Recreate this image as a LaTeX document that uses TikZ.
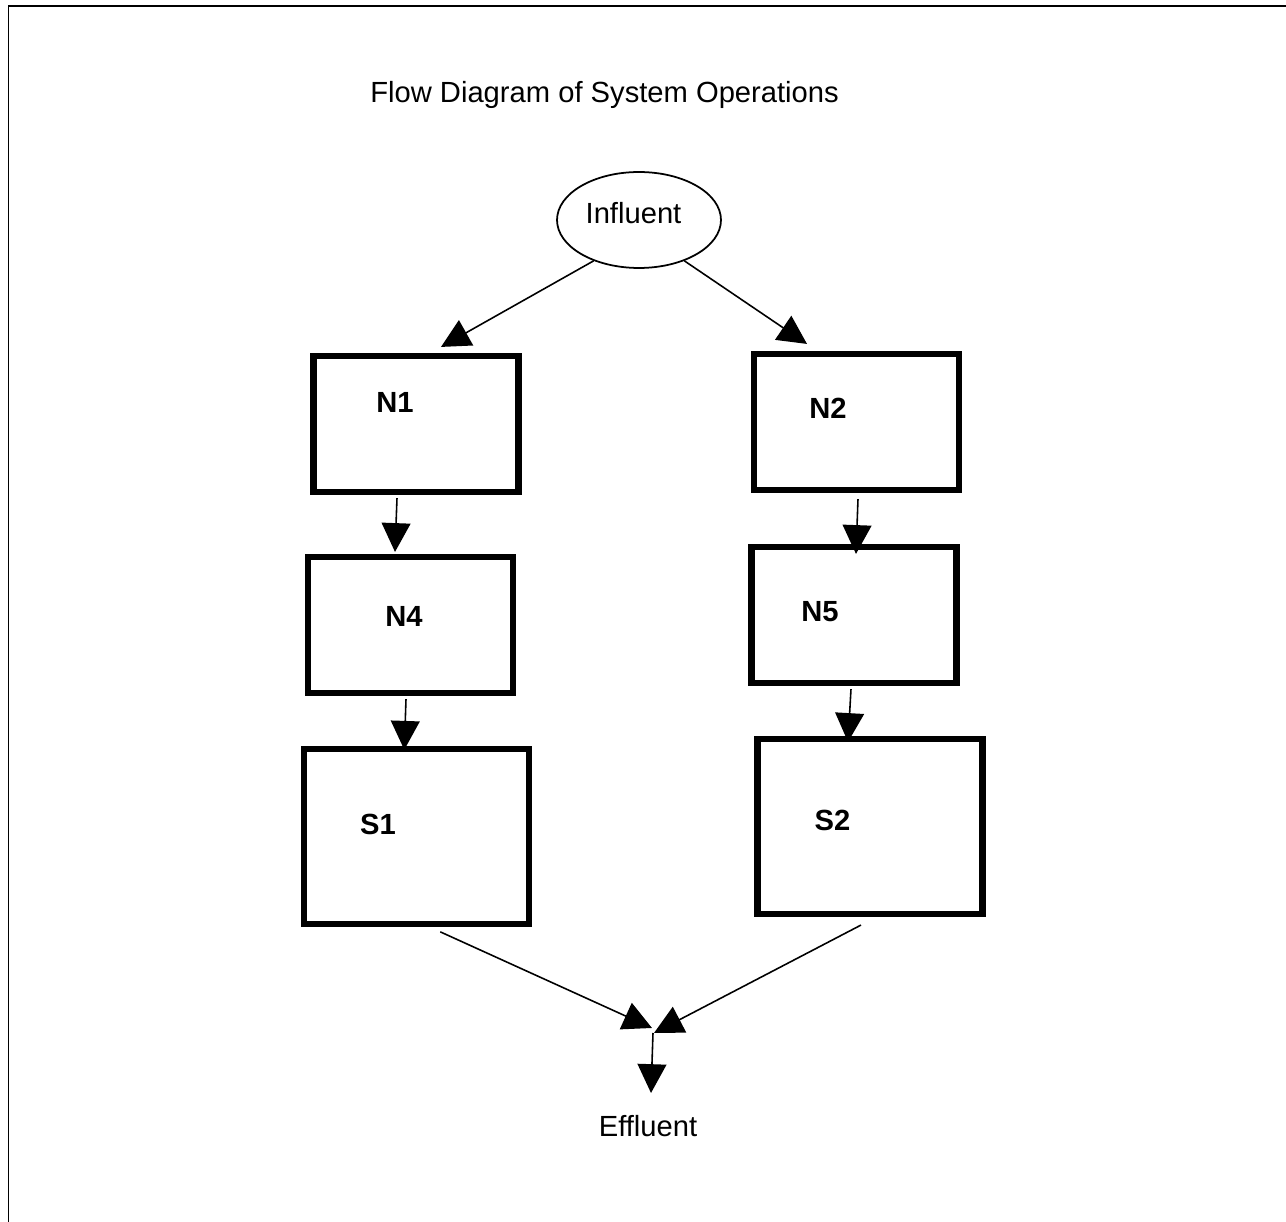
\documentclass[tikz,border=0pt]{standalone}
\usepackage{fontspec}
\setmainfont{Liberation Sans}
\usetikzlibrary{positioning,calc,shapes.geometric,arrows.meta}

\tikzset{
    tank/.style={draw, line width=3.5pt, inner sep=0pt},
    smalltank/.style={tank, minimum width=4.1cm, minimum height=2.72cm},
    bigtank/.style={tank, minimum width=4.5cm, minimum height=3.5cm},
    flow/.style={-{Triangle[length=16.4pt,width=16.4pt]}, line width=0.9pt},
    plain/.style={inner sep=0pt, anchor=base, font=\fontsize{16.6pt}{19pt}\selectfont},
    tag/.style={plain, font=\fontsize{16.6pt}{19pt}\selectfont\bfseries},
}

\begin{document}
\begin{tikzpicture}[x=0.02cm, y=-0.02cm]
    \useasboundingbox (0,0) rectangle (1286,1222);
    % frame
    \draw[line width=1.1pt] (8.5,1222) -- (8.5,6) -- (1286,6);

    \node[plain, anchor=base west] (title) at (370,103) {Flow Diagram of System Operations};

    \node[draw, ellipse, line width=1pt, minimum width=3.28cm, minimum height=1.92cm] (influent) at (639,220) {};
    \node[plain] (influenttext) at (633.5,224) {Influent};

    % left line
    \node[smalltank] (n1) at (416,424) {};
    \node[tag] (n1text) at (395,413) {N1};
    \node[smalltank] (n4) at (410.5,625) {};
    \node[tag] (n4text) at (404,627) {N4};
    \node[bigtank] (s1) at (416.3,836.3) {};
    \node[tag] (s1text) at (378,835) {S1};

    % right line
    \node[smalltank] (n2) at (856.5,422) {};
    \node[tag] (n2text) at (828,419) {N2};
    \node[smalltank] (n5) at (854,615) {};
    \node[tag] (n5text) at (820,622) {N5};
    \node[bigtank] (s2) at (870,826.5) {};
    \node[tag] (s2text) at (832.5,831) {S2};

    \node[plain] (effluent) at (648,1137) {Effluent};
    \coordinate (merge) at (653,1033);

    \draw[flow] (influent.222) -- ($(n1.north)+(25,-6)$);
    \draw[flow] (influent.318) -- ($(n2.north)+(-49.5,-7)$);
    \draw[flow] ($(n1.south)+(-19,3)$) -- ($(n4.north)+(-15.5,-2)$);
    \draw[flow] ($(n2.south)+(1.5,6)$) -- ($(n5.north)+(2,10)$);
    \draw[flow] ($(n4.south)+(-4.5,3)$) -- ($(s1.north)+(-12,4)$);
    \draw[flow] ($(n5.south)+(-3,3)$) -- ($(s2.north)+(-22,6)$);
    \draw[flow] ($(s1.south)+(24,5)$) -- ($(merge)+(-1,-5)$);
    \draw[flow] ($(s2.south)+(-9,8)$) -- ($(merge)+(1,0)$);
    \draw[flow] (merge) -- ++(-2,60);
\end{tikzpicture}
\end{document}
